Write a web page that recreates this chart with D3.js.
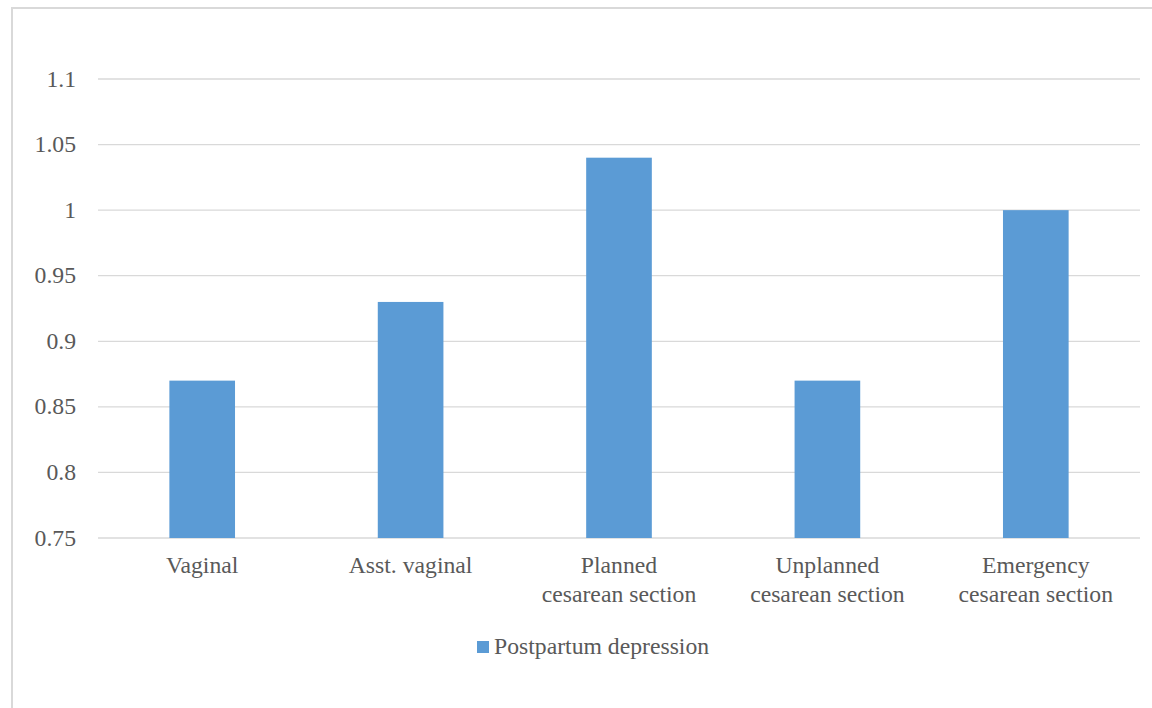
<!DOCTYPE html>
<html><head><meta charset="utf-8">
<script src="https://cdn.jsdelivr.net/npm/d3@7"></script>
<style>html,body{margin:0;padding:0;background:#fff;overflow:hidden}
svg text{font-family:"Liberation Serif","Times New Roman",Times,"DejaVu Serif",serif;}</style>
</head><body>
<svg id="c" width="1152" height="708"></svg>
<script>
const categories = [["Vaginal"],["Asst. vaginal"],["Planned","cesarean section"],["Unplanned","cesarean section"],["Emergency","cesarean section"]];
const values = [0.87, 0.93, 1.04, 0.87, 1.0];
const tickValues = [0.75, 0.8, 0.85, 0.9, 0.95, 1, 1.05, 1.1];
const seriesName = "Postpartum depression";

(function(){
const svg = d3.select("#c");
const textColor = "#595959";
const barColor = "#5b9bd5";
const fs = 23.7;

svg.append("rect").attr("x",12).attr("y",8).attr("width",1160).attr("height",720)
  .attr("fill","#fff").attr("stroke","#d9d9d9").attr("stroke-width",2);

const pL = 98, pR = 1140, pT = 79, pB = 538;
const x = d3.scaleBand().domain(d3.range(categories.length)).range([pL,pR]).paddingInner(0.685).paddingOuter(0.3425);
const y = d3.scaleLinear().domain([0.75,1.1]).range([pB,pT]);

svg.append("g").selectAll("line").data(tickValues).join("line")
  .attr("x1",pL).attr("x2",pR).attr("y1",d=>y(d)).attr("y2",d=>y(d))
  .attr("stroke","#d9d9d9").attr("stroke-width",1.3);

svg.append("g").selectAll("text").data(tickValues).join("text")
  .attr("x",76).attr("y",d=>y(d)).attr("dy","0.32em").attr("text-anchor","end")
  .attr("font-size",fs).attr("fill",textColor)
  .text(d=>d3.format("")(d));

svg.append("g").selectAll("rect").data(values).join("rect")
  .attr("x",(d,i)=>x(i)).attr("width",x.bandwidth())
  .attr("y",d=>y(d)).attr("height",d=>y(0.75)-y(d)).attr("fill",barColor);

const cat = svg.append("g").selectAll("text").data(categories).join("text")
  .attr("x",(d,i)=>x(i)+x.bandwidth()/2).attr("y",573).attr("text-anchor","middle")
  .attr("font-size",fs).attr("fill",textColor);
cat.selectAll("tspan").data(d=>d).join("tspan")
  .attr("x",function(){return this.parentNode.getAttribute("x");})
  .attr("dy",(d,i)=>i===0?0:29).text(d=>d);

const lg = svg.append("g");
lg.append("rect").attr("x",477).attr("y",641).attr("width",12).attr("height",12).attr("fill",barColor);
lg.append("text").attr("x",494).attr("y",654).attr("font-size",fs).attr("fill",textColor).text(seriesName);
})();
</script>
</body></html>
